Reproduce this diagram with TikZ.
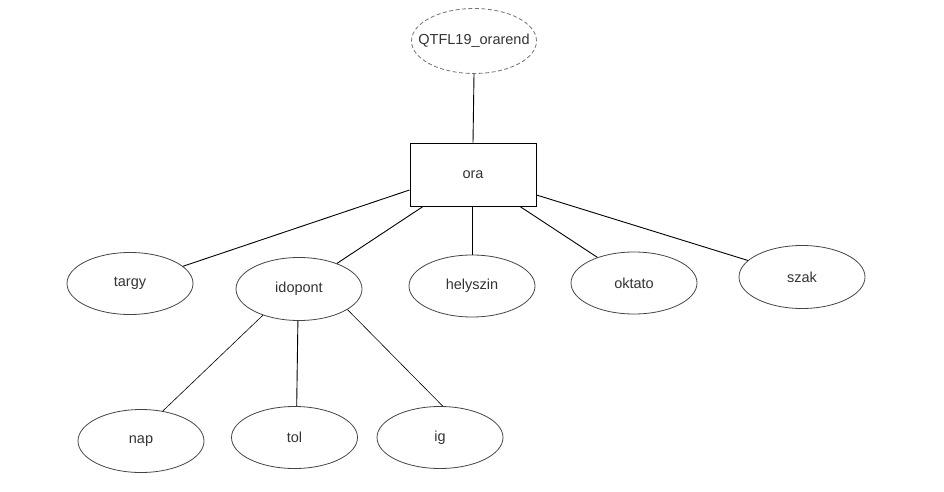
\documentclass[tikz,border=0pt]{standalone}
\usepackage{fontspec}
\setmainfont{Liberation Sans}
\usetikzlibrary{shapes.geometric}
\definecolor{txt}{HTML}{333333}
\definecolor{edge}{HTML}{444444}
\tikzset{
  attr/.style={ellipse, draw=edge, line width=0.8pt, minimum width=126pt, minimum height=62pt, inner sep=0pt, text=txt, font=\fontsize{14.5}{17}\selectfont},
  keyattr/.style={attr, draw=gray!90!black, dash pattern=on 4pt off 2.5pt, minimum width=125pt, minimum height=65pt},
  entity/.style={rectangle, draw=black, line width=1pt, minimum width=126pt, minimum height=63pt, inner sep=0pt, text=txt, font=\fontsize{14.5}{17}\selectfont},
  conn/.style={draw=black, line width=0.9pt},
  thin/.style={draw=black, line width=0.6pt}
}
\begin{document}
\begin{tikzpicture}[x=1pt,y=-1pt]
\useasboundingbox (0,0) rectangle (944,492);
\node[keyattr] (qt) at (474,41) {\makebox[0pt][c]{QTFL19\_orarend}};
\node[entity] (ora) at (473,174.5) {ora};
\node[attr] (targy) at (130,283.5) {targy};
\node[attr, minimum height=63pt] (idopont) at (299,289) {idopont};
\node[attr] (helyszin) at (472,286) {helyszin};
\node[attr] (oktato) at (634,283) {oktato};
\node[attr, minimum height=63pt] (szak) at (802,277) {szak};
\node[attr, minimum height=63pt] (nap) at (141,441) {nap};
\node[attr] (tol) at (294.5,437.5) {tol};
\node[attr] (ig) at (440,437.5) {ig};

\draw[conn] (qt.south) -- (ora.north);
\draw[conn] ([yshift=-15.5pt]ora.west) -- (targy.18);
\draw[conn] ([xshift=-50pt]ora.south) -- (idopont.34);
\draw[conn] (ora.south -| helyszin.north) -- (helyszin.north);
\draw[conn] ([xshift=47pt]ora.south) -- (oktato.145);
\draw[conn] ([yshift=-20.5pt]ora.east) -- (szak.163);
\draw[thin] (idopont.216) -- (nap.54);
\draw[conn] (idopont.268) -- (tol.86);
\draw[thin] (idopont.-23) -- (ig.85);
\end{tikzpicture}
\end{document}
